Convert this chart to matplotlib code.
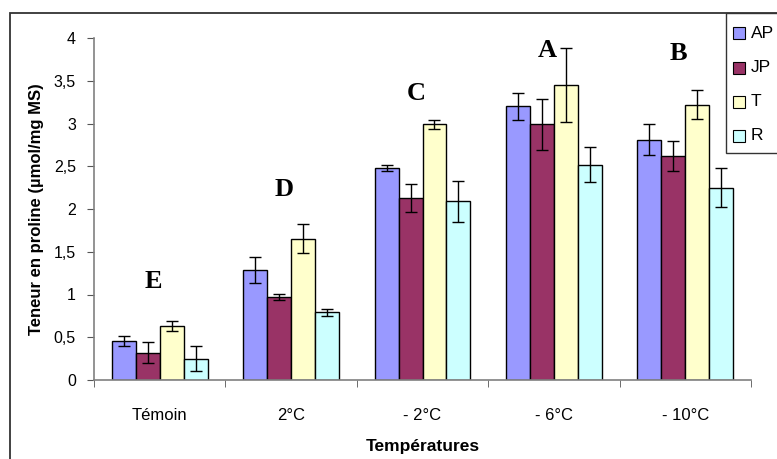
import matplotlib.pyplot as plt
import numpy as np
from matplotlib.patches import Rectangle

# Data
categories = ['Témoin', '2°C', '- 2°C', '- 6°C', '- 10°C']
series = ['AP', 'JP', 'T', 'R']
ap = [0.46, 1.29, 2.48, 3.20, 2.81]
jp = [0.32, 0.97, 2.13, 2.99, 2.62]
t = [0.63, 1.65, 2.99, 3.45, 3.22]
r = [0.25, 0.79, 2.09, 2.52, 2.25]
ap_err = [0.06, 0.15, 0.04, 0.16, 0.18]
jp_err = [0.12, 0.04, 0.16, 0.30, 0.18]
t_err = [0.06, 0.17, 0.05, 0.43, 0.17]
r_err = [0.15, 0.04, 0.24, 0.21, 0.23]
letters = ['E', 'D', 'C', 'A', 'B']
letter_y = [1.15, 2.23, 3.35, 3.85, 3.82]

colors = ['#9999FF', '#993366', '#FFFFCC', '#CCFFFF']

plt.rcParams['font.family'] = ['Liberation Sans', 'DejaVu Sans']

W, H = 777, 459
fig = plt.figure(figsize=(W/100, H/100), dpi=100)
ax = fig.add_axes([94/W, 1 - 380/H, (751 - 94)/W, (380 - 38)/H])

x = np.arange(len(categories))
width = 0.182
values = [ap, jp, t, r]
errs = [ap_err, jp_err, t_err, r_err]
for i, (v, e) in enumerate(zip(values, errs)):
    pos = x + (i - 1.5) * width
    ax.bar(pos, v, width, color=colors[i], edgecolor='black', linewidth=1.0,
           label=series[i], zorder=2)
    ax.errorbar(pos, v, yerr=e, fmt='none', ecolor='black', elinewidth=1.0,
                capsize=4.3, capthick=1.0, zorder=3)

# significance letters
for i, (lab, ly) in enumerate(zip(letters, letter_y)):
    ax.text(x[i] - 0.05, ly, lab, ha='center', va='center', fontsize=19,
            fontweight='bold', family='Liberation Serif')

ax.set_xlim(-0.5, len(categories) - 0.5)
ax.set_ylim(0, 4)
ax.set_yticks(np.arange(0, 4.01, 0.5))
ax.set_yticklabels(['0', '0,5', '1', '1,5', '2', '2,5', '3', '3,5', '4'],
                   fontsize=11.5)
ax.set_xticks(x)
ax.set_xticklabels(categories, fontsize=12)
ax.set_xticks(np.arange(-0.5, len(categories)), minor=True)
ax.tick_params(axis='x', which='major', length=0, pad=20)
ax.tick_params(axis='x', which='minor', length=5, direction='out', color='#555555')
ax.tick_params(axis='y', length=5, direction='out', color='#555555', pad=8)

for s in ['top', 'right']:
    ax.spines[s].set_visible(False)
for s in ['left', 'bottom']:
    ax.spines[s].set_color('#808080')
    ax.spines[s].set_linewidth(1.2)

ax.set_xlabel('Températures', fontsize=12.5, fontweight='bold', labelpad=12)
ax.set_ylabel('Teneur en proline (µmol/mg MS)', fontsize=12, fontweight='bold',
              labelpad=7)

# outer chart border, cut by the image edges
fig.patches.append(Rectangle((10/W, -0.1), 1.2, 1 - 13/H + 0.1,
                             transform=fig.transFigure, fill=False,
                             edgecolor='#333333', linewidth=1.3, zorder=0))

# legend box, also cut by the right edge
fig.patches.append(Rectangle((726/W, 1 - 153/H), 0.2, (153 - 13)/H,
                             transform=fig.transFigure, facecolor='white',
                             edgecolor='#333333', linewidth=1.0, zorder=5))
entry_y = [33, 68, 102, 136]
for c, name, ey in zip(colors, series, entry_y):
    fig.patches.append(Rectangle((733/W, 1 - (ey + 6)/H), 12/W, 12/H,
                                 transform=fig.transFigure, facecolor=c,
                                 edgecolor='black', linewidth=0.8, zorder=6))
    fig.text(751/W, 1 - ey/H, name, fontsize=12.5, va='center', ha='left',
             zorder=7)

fig.savefig('out.png', dpi=100)
